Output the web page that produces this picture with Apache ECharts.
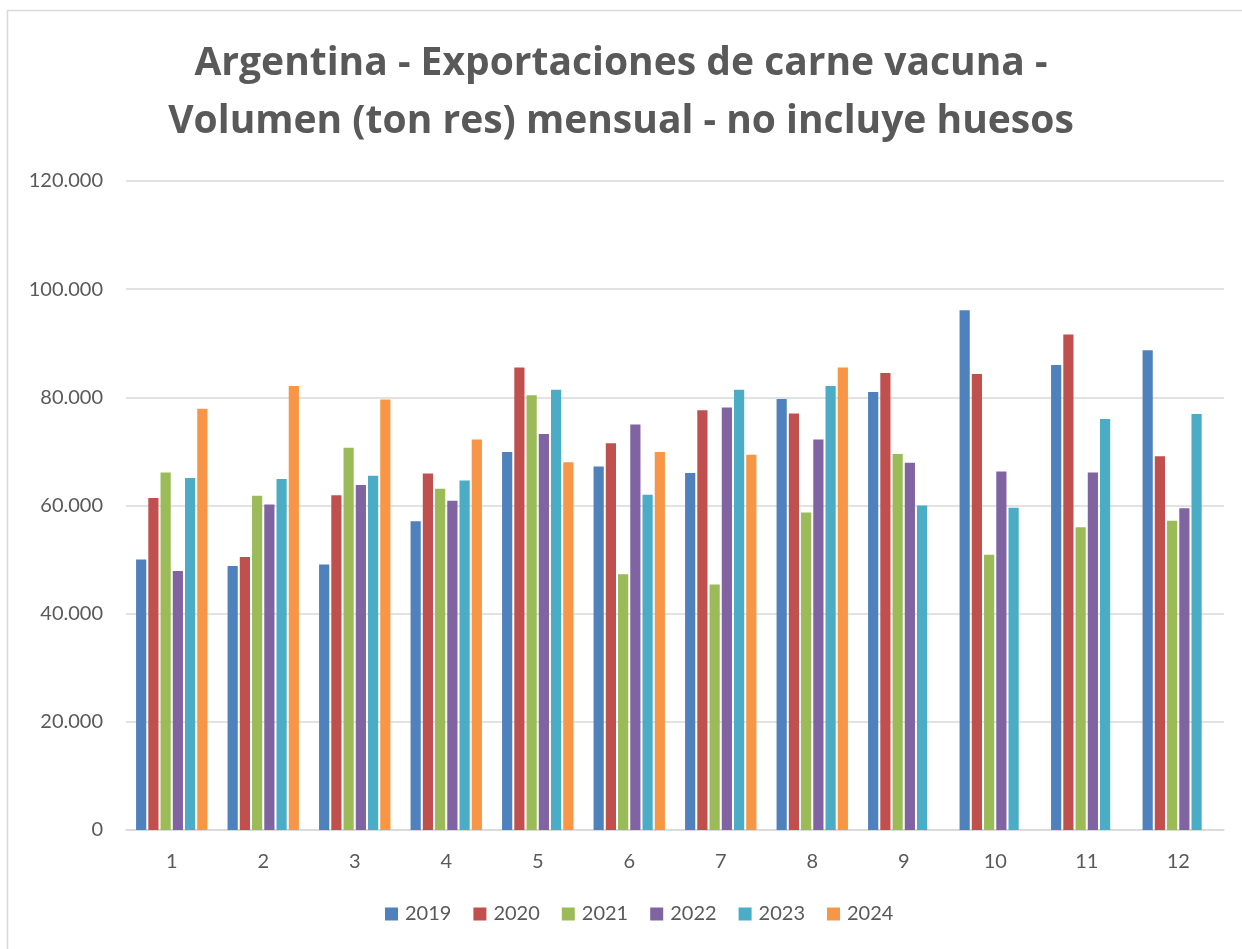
<!DOCTYPE html>
<html>
<head>
<meta charset="utf-8">
<script src="https://cdn.jsdelivr.net/npm/echarts@6/dist/echarts.min.js"></script>
<style>
  html, body { margin: 0; padding: 0; background: #fff; }
  #main { width: 1242px; height: 949px; }
</style>
</head>
<body>
<div id="main"></div>
<script>
// meses y volumen mensual (ton res) por año
var meses = ["1", "2", "3", "4", "5", "6", "7", "8", "9", "10", "11", "12"];
var anios = ["2019", "2020", "2021", "2022", "2023", "2024"];
var v2019 = [50000, 48800, 49100, 57100, 69900, 67200, 66000, 79700, 81000, 96100, 86000, 88700];
var v2020 = [61400, 50500, 61900, 65900, 85500, 71500, 77600, 77000, 84500, 84300, 91600, 69100];
var v2021 = [66100, 61800, 70700, 63100, 80400, 47300, 45400, 58700, 69500, 50900, 56000, 57200];
var v2022 = [47900, 60200, 63800, 60900, 73200, 75000, 78100, 72200, 67900, 66300, 66100, 59500];
var v2023 = [65100, 64900, 65500, 64600, 81400, 62000, 81400, 82100, 60000, 59600, 76000, 76900];
var v2024 = [77900, 82100, 79600, 72200, 68000, 69900, 69400, 85500, null, null, null, null];
var colores = ["#4F81BD", "#C0504D", "#9BBB59", "#8064A2", "#4BACC6", "#F79646"];

var valores = [v2019, v2020, v2021, v2022, v2023, v2024];
var fuente = "Lato, 'Open Sans', sans-serif";

var chart = echarts.init(document.getElementById("main"));

var series = anios.map(function (a, i) {
  return {
    name: a,
    type: "bar",
    data: valores[i],
    barGap: "20%",
    barCategoryGap: "22%",
    itemStyle: { color: colores[i] }
  };
});

chart.setOption({
  animation: false,
  color: colores,
  title: {
    text: "Argentina - Exportaciones de carne vacuna -\nVolumen (ton res) mensual - no incluye huesos",
    left: "center",
    top: 30,
    textStyle: {
      fontFamily: "'Open Sans', sans-serif",
      fontSize: 39,
      fontWeight: "bold",
      color: "#595959",
      lineHeight: 58
    }
  },
  graphic: [{
    type: "rect",
    shape: { x: 7.5, y: 10.5, width: 1300, height: 1000 },
    style: { fill: "none", stroke: "#d9d9d9", lineWidth: 1.5 },
    silent: true
  }],
  legend: {
    bottom: 20,
    left: 380,
    itemWidth: 13,
    itemHeight: 13,
    itemGap: 22,
    icon: "rect",
    textStyle: { fontFamily: fuente, fontSize: 20, color: "#595959", padding: [0, 0, 0, 2] }
  },
  grid: { left: 126, right: 18, top: 181, bottom: 119 },
  xAxis: {
    type: "category",
    data: meses,
    axisLine: { lineStyle: { color: "#d9d9d9", width: 1.5 } },
    axisTick: { show: false },
    axisLabel: { fontFamily: fuente, fontSize: 20, color: "#595959", margin: 22 }
  },
  yAxis: {
    type: "value",
    min: 0,
    max: 120000,
    interval: 20000,
    axisLine: { show: false },
    axisTick: { show: false },
    splitLine: { lineStyle: { color: "#d9d9d9", width: 1.5 } },
    axisLabel: {
      fontFamily: fuente,
      fontSize: 20,
      color: "#595959",
      margin: 23,
      formatter: function (v) {
        return String(v).replace(/\B(?=(\d{3})+(?!\d))/g, ".");
      }
    }
  },
  series: series
});
</script>
</body>
</html>
